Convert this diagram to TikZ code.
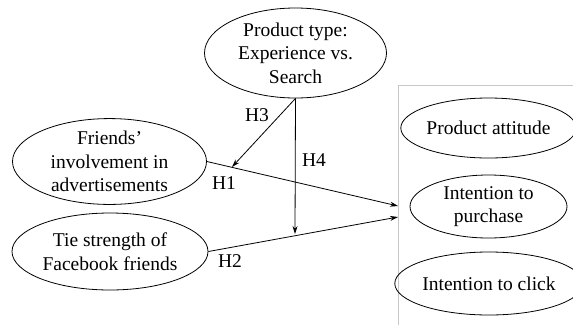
\documentclass[tikz,border=0pt]{standalone}
\usepackage{fontspec}
\setmainfont{Liberation Serif}
\usetikzlibrary{shapes.geometric,arrows.meta}
\begin{document}
\begin{tikzpicture}[x=1pt,y=-1pt,
  txt/.style={font=\fontsize{19.5}{23.5}\selectfont},
  ell/.style={txt,draw,ellipse,inner sep=0pt,align=center,line width=0.8pt},
  arr/.style={-{Stealth[length=8pt,width=5pt]},line width=0.8pt},
  frame/.style={draw=black!22,line width=0.8pt}]
\useasboundingbox (0,0) rectangle (573,325);
\draw[frame] (398,325) -- (398,85) -- (573,85);
\node[ell,minimum width=182pt,minimum height=90pt] (pt) at (295.5,53) {Product type:\\Experience vs.\\Search};
\node[ell,minimum width=194pt,minimum height=77pt] (fr) at (109.5,161.5) {Friends’\\involvement in\\advertisements};
\node[ell,minimum width=196pt,minimum height=77pt] (ts) at (110,251.5) {Tie strength of\\Facebook friends};
\node[ell,minimum width=157pt,minimum height=60pt] (pa) at (488.5,128) {Product attitude};
\node[ell,minimum width=157pt,minimum height=63pt] (ip) at (488.5,206.5) {Intention to\\purchase};
\node[ell,minimum width=162pt,minimum height=63pt] (ic) at (489,283.5) {Intention to click};
\coordinate (h1end) at (398,206);
\coordinate (h2end) at (398,217);
\coordinate (h4end) at (295,234);
\coordinate (h3end) at (232,167);
\draw[arr] (fr.east) -- (h1end);
\draw[arr] (ts.east) -- (h2end);
\draw[arr] (pt.south) -- (h4end);
\draw[arr] (pt.south) -- (h3end);
\node[txt] (l3) at (257,115) {H3};
\node[txt] (l1) at (224,183) {H1};
\node[txt] (l2) at (230,261) {H2};
\node[txt] (l4) at (314,160) {H4};
\end{tikzpicture}
\end{document}
